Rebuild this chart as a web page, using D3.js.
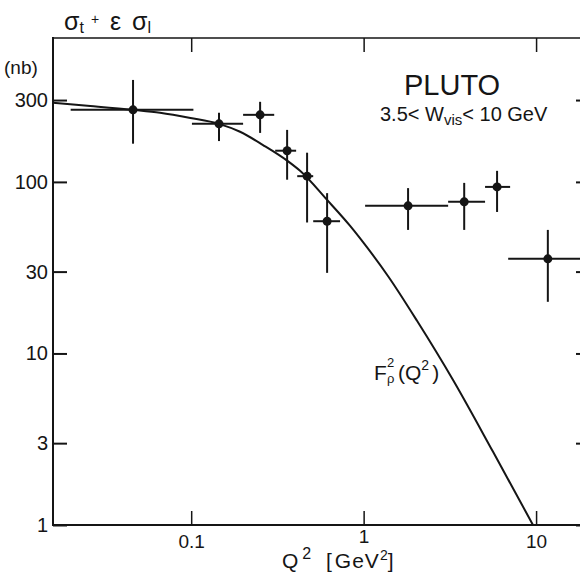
<!DOCTYPE html>
<html>
<head>
<meta charset="utf-8">
<script src="https://cdn.jsdelivr.net/npm/d3@7"></script>
<style>
  html, body { margin: 0; padding: 0; background: #fff; }
  svg { display: block; font-family: "Liberation Sans", Arial, sans-serif; }
</style>
</head>
<body>
<svg width="580" height="574"></svg>
<script>
// PLUTO data points: Q^2 (GeV^2) with bin edges, sigma_t + eps sigma_l (nb) with errors
const q2 = [0.046, 0.145, 0.251, 0.36, 0.47, 0.614, 1.81, 3.83, 5.94, 11.7];
const q2Lo = [0.02, 0.101, 0.2, 0.307, 0.412, 0.51, 1.02, 3.09, 5.06, 6.89];
const q2Hi = [0.103, 0.2, 0.303, 0.406, 0.51, 0.73, 3.09, 5.06, 7.07, 19.9];
const sigma = [263, 218, 246, 152, 108, 59, 72.5, 76.5, 93.5, 35.6];
const sigmaLo = [167, 173, 193, 103, 58, 29.5, 52.5, 52.5, 66.8, 20];
const sigmaHi = [393, 253, 293, 201, 148, 86, 92, 98.7, 116, 52.5];

// F_rho^2(Q^2) curve
const curveQ2 = [0.0158, 0.026, 0.046, 0.066, 0.099, 0.145, 0.192, 0.261, 0.36, 0.428,
  0.614, 0.835, 1.0, 1.39, 2.04, 3.3, 5.63, 9.6];
const curveSigma = [289, 277, 263, 253, 236, 218, 196, 164, 133, 116,
  78.5, 55.4, 44.1, 28.1, 15.5, 7.0, 2.67, 1.0];

const xTicks = [0.1, 1, 10];
const xTickLabels = ["0.1", "1", "10"];
const yTicks = [1, 3, 10, 30, 100, 300];
const yTickLabels = ["1", "3", "10", "30", "100", "300"];

const ink = "#151515";
const svg = d3.select("svg");

const x = d3.scaleLog().domain([0.0158, 21.1]).range([53, 592]);
const y = d3.scaleLog().domain([1, 690]).range([525, 38]);

// frame
const frame = svg.append("g").attr("stroke", ink).attr("stroke-width", 2).attr("fill", "none");
frame.append("line").attr("x1", 53).attr("x2", 592).attr("y1", 38).attr("y2", 38).attr("stroke-width", 1.6);
frame.append("line").attr("x1", 53).attr("x2", 592).attr("y1", 525).attr("y2", 525);
frame.append("line").attr("x1", 53).attr("x2", 53).attr("y1", 37).attr("y2", 526);

const styleAxis = (g) => {
  g.select(".domain").remove();
  g.selectAll(".tick line").attr("stroke", ink).attr("stroke-width", 2);
  g.selectAll(".tick text").attr("fill", ink).attr("font-size", 20)
    .attr("font-family", "Liberation Sans, Arial, sans-serif");
};

svg.append("g")
  .attr("transform", "translate(53,0)")
  .call(d3.axisLeft(y).tickValues(yTicks).tickSize(-14).tickPadding(5)
    .tickFormat((d, i) => yTickLabels[i]))
  .call(styleAxis);

svg.append("g")
  .attr("transform", "translate(0,525)")
  .call(d3.axisBottom(x).tickValues(xTicks).tickSize(-14).tickPadding(10)
    .tickFormat((d, i) => xTickLabels[i]))
  .call(styleAxis)
  .call((g) => g.selectAll(".tick line").attr("stroke-width", 1.5))
  .call((g) => g.selectAll(".tick text").attr("font-size", 19)
    .attr("y", (d) => (d === 1 ? 5 : 10)));

svg.append("g")
  .attr("transform", "translate(0,38)")
  .call(d3.axisTop(x).tickValues(xTicks).tickSize(-14).tickFormat(""))
  .call(styleAxis)
  .call((g) => g.selectAll(".tick line").attr("stroke-width", 1.5));

svg.append("g")
  .attr("transform", "translate(592,0)")
  .call(d3.axisRight(y).tickValues(yTicks).tickSize(-16).tickFormat(""))
  .call(styleAxis);

// curve
const line = d3.line()
  .x((d) => x(d[0]))
  .y((d) => y(d[1]))
  .curve(d3.curveMonotoneX);

svg.append("path")
  .datum(curveQ2.map((q, i) => [q, curveSigma[i]]))
  .attr("d", line)
  .attr("fill", "none")
  .attr("stroke", ink)
  .attr("stroke-width", 2);

// data points with error bars
const pts = q2.map((q, i) => ({
  q, lo: q2Lo[i], hi: q2Hi[i], s: sigma[i], sLo: sigmaLo[i], sHi: sigmaHi[i]
}));

const pg = svg.append("g").selectAll("g").data(pts).join("g");
pg.append("line")
  .attr("x1", (d) => x(d.lo)).attr("x2", (d) => x(d.hi))
  .attr("y1", (d) => y(d.s)).attr("y2", (d) => y(d.s))
  .attr("stroke", ink).attr("stroke-width", 2);
pg.append("line")
  .attr("x1", (d) => x(d.q)).attr("x2", (d) => x(d.q))
  .attr("y1", (d) => y(d.sLo)).attr("y2", (d) => y(d.sHi))
  .attr("stroke", ink).attr("stroke-width", 2);
pg.append("circle")
  .attr("cx", (d) => x(d.q)).attr("cy", (d) => y(d.s))
  .attr("r", 4.5).attr("fill", ink);

// texts
const t = svg.append("g").attr("fill", ink);

// sigma_t + eps sigma_l
const yl = t.append("text").attr("y", 30).attr("font-size", 25);
yl.append("tspan").attr("x", 64).text("σ");
yl.append("tspan").attr("font-size", 16).attr("dy", 3).text("t");
yl.append("tspan").attr("x", 91).attr("font-size", 14).attr("dy", -9).text("+");
yl.append("tspan").attr("x", 110).attr("dy", 6).text("ε");
yl.append("tspan").attr("x", 132).text("σ");
yl.append("tspan").attr("font-size", 16).attr("dy", 3).text("l");

t.append("text").attr("x", 4).attr("y", 74).attr("font-size", 19).text("(nb)");

t.append("text").attr("x", 404).attr("y", 95).attr("font-size", 29).text("PLUTO");

const wl = t.append("text").attr("x", 380).attr("y", 121).attr("font-size", 20);
wl.append("tspan").text("3.5< W");
wl.append("tspan").attr("font-size", 15).attr("dy", 4).text("vis");
wl.append("tspan").attr("dy", -4).text("< 10 GeV");

// F_rho^2(Q^2)
t.append("text").attr("x", 374).attr("y", 380).attr("font-size", 21).text("F");
t.append("text").attr("x", 387).attr("y", 367).attr("font-size", 13).text("2");
t.append("text").attr("x", 387).attr("y", 383).attr("font-size", 13).text("ρ");
const fl = t.append("text").attr("x", 398).attr("y", 380).attr("font-size", 21);
fl.append("tspan").text("(Q");
fl.append("tspan").attr("font-size", 14).attr("dy", -10).text("2");
fl.append("tspan").attr("dy", 10).attr("dx", 3).text(")");

// x title
const xl = t.append("text").attr("x", 282).attr("y", 568).attr("font-size", 21);
xl.append("tspan").text("Q");
xl.append("tspan").attr("font-size", 16).attr("dy", -9).attr("dx", 4).text("2");
xl.append("tspan").attr("dy", 9).attr("x", 326).text("[");
xl.append("tspan").attr("dx", 3).attr("letter-spacing", 1).text("GeV");
xl.append("tspan").attr("font-size", 14).attr("dy", -8).text("2");
xl.append("tspan").attr("dy", 8).text("]");
</script>
</body>
</html>
